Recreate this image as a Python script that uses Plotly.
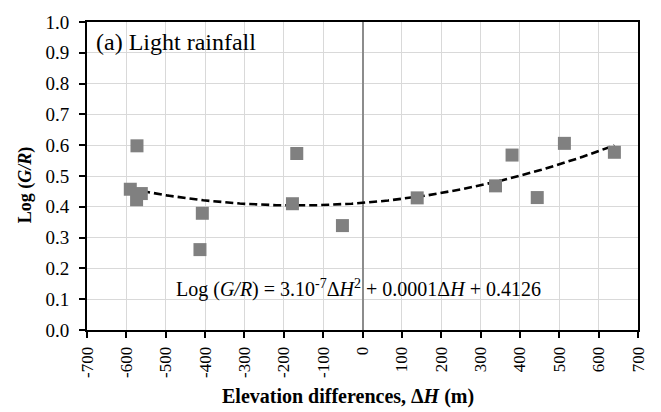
import numpy as np
import plotly.graph_objects as go

# Data
elev_diff = [-590, -562, -574, -573, -407, -413, -178, -167, -51, 139, 338, 380, 444, 513, 640]
log_gr = [0.457, 0.443, 0.423, 0.598, 0.379, 0.261, 0.410, 0.573, 0.339, 0.429, 0.468, 0.568, 0.430, 0.606, 0.577]

# Trendline coefficients (from the equation on the chart)
trend_coef = [3e-7, 0.0001, 0.4126]

x_tickvals = list(range(-700, 701, 100))
x_ticktext = [str(v) for v in x_tickvals]
y_tickvals = [round(0.1 * i, 1) for i in range(11)]
y_ticktext = [f"{v:.1f}" for v in y_tickvals]

FONT = "Liberation Serif"

xt = np.linspace(min(elev_diff), max(elev_diff), 200)
yt = np.polyval(trend_coef, xt)

fig = go.Figure()
fig.add_trace(go.Scatter(
    x=xt, y=yt, mode="lines",
    line=dict(color="black", width=2.6, dash="8px,4px"),
    hoverinfo="skip", showlegend=False,
))
fig.add_trace(go.Scatter(
    x=elev_diff, y=log_gr, mode="markers",
    marker=dict(symbol="square", size=13, color="#808080"),
    showlegend=False,
))

fig.add_annotation(
    x=-700, y=0.935, xref="x", yref="y", xanchor="left", yanchor="middle",
    xshift=7,
    text="(a) Light rainfall", showarrow=False,
    font=dict(family=FONT, size=24, color="black"),
)
fig.add_annotation(
    x=-10, y=0.136, xref="x", yref="y", xanchor="center", yanchor="middle",
    text="Log (<i>G/R</i>) = 3.10<sup>-7</sup>Δ<i>H</i><sup>2</sup> + 0.0001Δ<i>H</i> + 0.4126",
    showarrow=False,
    font=dict(family=FONT, size=20, color="black"),
)
# Axis titles
fig.add_annotation(
    x=0.473, y=-0.216, xref="paper", yref="paper", xanchor="center", yanchor="middle",
    text="<b>Elevation differences, Δ<i>H</i> (m)</b>", showarrow=False,
    font=dict(family=FONT, size=20, color="black"),
)
fig.add_annotation(
    x=-0.1125, y=0.47, xref="paper", yref="paper", xanchor="center", yanchor="middle",
    text="<b>Log (<i>G/R</i>)</b>", showarrow=False, textangle=-90,
    font=dict(family=FONT, size=18, color="black"),
)

fig.update_layout(
    width=661, height=412,
    margin=dict(l=87, r=23, t=15, b=82),
    plot_bgcolor="white", paper_bgcolor="white",
    font=dict(family=FONT, size=18, color="black"),
    xaxis=dict(
        range=[-700, 700], tickvals=x_tickvals, ticktext=x_ticktext,
        tickangle=-90, showgrid=True, gridcolor="#d9d9d9", gridwidth=1,
        zeroline=True, zerolinecolor="#8c8c8c", zerolinewidth=1.5,
        showline=True, linecolor="black", linewidth=2, mirror=True,
        ticks="outside", ticklen=6, tickcolor="black", tickwidth=1.5,
        tickfont=dict(family=FONT, size=17), ticklabelstandoff=2,
    ),
    yaxis=dict(
        range=[0, 1.0], tickvals=y_tickvals, ticktext=y_ticktext,
        showgrid=True, gridcolor="#d9d9d9", gridwidth=1,
        zeroline=False,
        showline=True, linecolor="black", linewidth=2, mirror=True,
        ticks="outside", ticklen=6, tickcolor="black", tickwidth=1.5,
        tickfont=dict(family=FONT, size=19), ticklabelstandoff=6,
    ),
)

fig.write_html("out.html")
